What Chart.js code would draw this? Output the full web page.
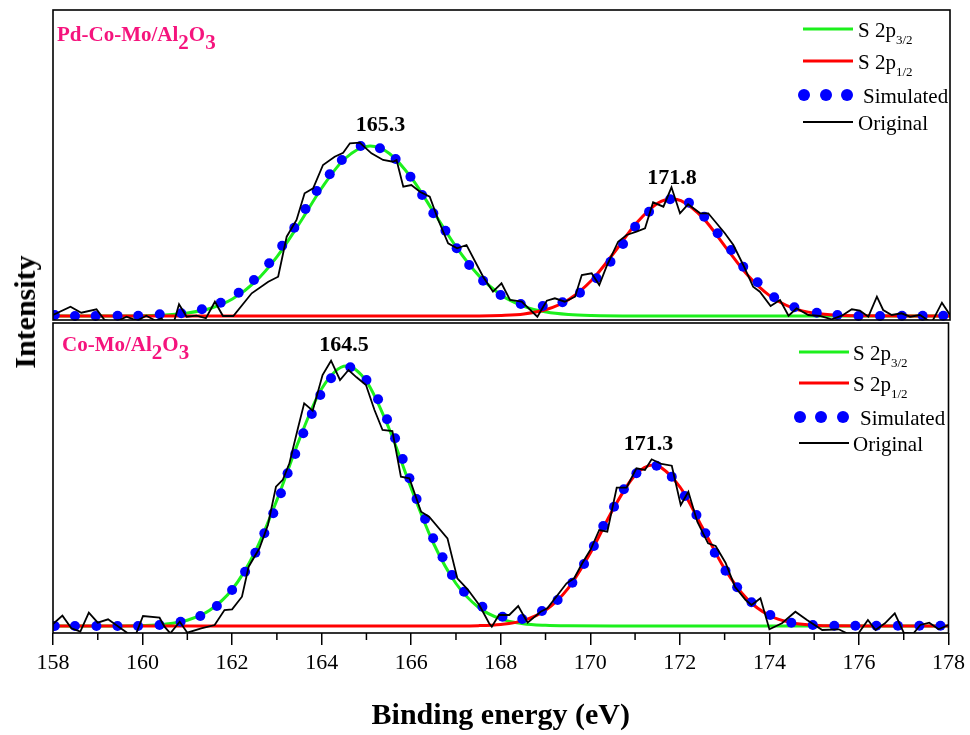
<!DOCTYPE html>
<html>
<head>
<meta charset="utf-8">
<title>S 2p XPS</title>
<script src="https://cdn.jsdelivr.net/npm/chart.js@4.4.1/dist/chart.umd.min.js"></script>
<style>
  html, body { margin: 0; padding: 0; background: #fff; }
  #wrap { position: relative; width: 970px; height: 735px; overflow: hidden; }
  #wrap canvas { position: absolute; left: 0; }
  #topPanel { top: 0; }
  #bottomPanel { top: 322px; }
  #yTitle {
    position: absolute; left: 25px; top: 312px;
    transform: translate(-50%, -50%) rotate(-90deg);
    font: bold 30px "Liberation Serif", "Times New Roman", serif;
    white-space: nowrap; color: #000;
  }
</style>
</head>
<body>
<div id="wrap">
  <canvas id="topPanel" width="970" height="322"></canvas>
  <canvas id="bottomPanel" width="970" height="413"></canvas>
  <div id="yTitle">Intensity</div>
</div>
<script>
// ---- Pd-Co-Mo/Al2O3 (upper panel) ----
const pdSimE = [158.04,158.49,158.95,159.44,159.90,160.38,160.86,161.32,161.74,162.14,162.48,162.82,163.11,163.38,163.63,163.88,164.17,164.44,164.86,165.29,165.64,165.97,166.23,166.48,166.75,167.00,167.28,167.59,167.98,168.43,168.92,169.36,169.75,170.12,170.43,170.71,170.98,171.29,171.76,172.18,172.52,172.82,173.12,173.39,173.71,174.08,174.53,175.03,175.49,175.96,176.44,176.93,177.39,177.85];
const pdSimI = [1,0,0,0.3,0.3,1.7,2.7,6.7,13.3,23.3,36,52.7,70.3,88.3,107,125,141.7,156,170,167.7,157,139.3,121,102.7,85.3,67.7,51,35.3,21,12,10,13.7,23.3,37.7,54.3,72,89.3,104.3,116.7,113.3,99.3,82.7,66,49.3,33.7,18.7,8.7,3.3,1,0,0,0.3,0.3,0.3];

const pdOrigE = [158.00,158.39,158.63,158.97,159.15,159.38,159.64,159.87,160.08,160.29,160.42,160.49,160.69,160.81,160.98,161.20,161.41,161.61,161.79,162.02,162.43,162.80,163.02,163.21,163.43,163.61,163.80,164.02,164.28,164.47,164.62,164.84,165.10,165.36,165.58,165.66,165.81,165.99,166.18,166.40,166.59,166.81,167.01,167.22,167.59,167.81,168.00,168.19,168.45,168.80,169.01,169.19,169.41,169.64,169.79,170.01,170.18,170.34,170.60,170.79,171.01,171.20,171.38,171.61,171.79,171.98,172.16,172.43,172.61,172.98,173.17,173.39,173.61,173.76,174.00,174.21,174.40,174.58,174.84,175.10,175.36,175.59,175.81,175.99,176.18,176.37,176.51,176.70,176.92,177.11,177.33,177.59,177.82,178.00];
const pdOrigI = [1,9.3,3.3,6.7,-4,-6.3,-0.7,-4.7,0.3,-4.7,-2.3,-7,-7,11.7,-0.7,0.3,-2.3,14.3,0,0,22.7,34.3,39.3,79.3,96,122.7,127.7,151,159.3,163.3,172.7,173.3,162.7,156,154.3,156,129.3,131,124.3,119.3,96,72.7,67.7,71,39.3,24.3,32.7,16,14.3,-0.7,15.3,17.7,14.3,19.3,41,42.7,31,49.3,74.3,81,84.3,87.7,113.7,109.3,128.7,102.7,111.7,102.7,102.7,82.7,71,51,29.3,24.3,10,16,0.3,7.7,1,0,-3.3,0.3,6.7,5.3,-0.7,19.3,6,1,2.7,-0.7,1,-6.7,13.3,1];

const pd32E = [158,159,160,160.5,161,161.5,162,162.5,163,163.5,164,164.5,165.07,165.5,166,166.5,167,167.5,168,168.5,169,169.5,170,171,178];
const pd32I = [0,0,0.3,1.0,3.0,7.5,17,33.8,59.6,93,128.5,157,170,162.5,137.6,103,68.4,40.1,20.8,9.6,3.9,1.4,0.45,0,0];
const pd12E = [158,166,167.5,168,168.5,169,169.5,170,170.5,171,171.5,171.8,172,172.5,173,173.5,174,174.5,175,175.5,176,177,178];
const pd12I = [0,0,0.1,0.6,2.1,6.5,16.6,35.3,62.7,92.4,113.2,117,115.3,97.6,68.7,40.2,19.6,7.9,2.7,0.7,0.2,0,0];
const pdPeaks = [165.3, 171.8];

// ---- Co-Mo/Al2O3 (lower panel) ----
const coSimE = [158.04,158.49,158.97,159.44,159.90,160.38,160.85,161.29,161.66,162.00,162.29,162.52,162.72,162.92,163.09,163.24,163.41,163.59,163.78,163.97,164.21,164.64,165.00,165.26,165.46,165.64,165.81,165.96,166.12,166.31,166.49,166.70,166.91,167.18,167.59,168.04,168.48,168.92,169.27,169.60,169.86,170.08,170.29,170.53,170.75,171.03,171.48,171.82,172.11,172.37,172.57,172.78,173.02,173.28,173.60,174.02,174.49,174.97,175.45,175.92,176.39,176.87,177.35,177.82];
const coSimI = [0,0,0,0,0,1,4.3,10,20,36,54.3,73.3,92.7,112.7,132.7,152.7,172,192.7,212,231,247.7,258.7,246,226.7,206.7,187.7,167,147.7,127,107,87.7,68.7,51,34.3,19.3,9.3,7,15,26,43.3,62,80,100,119.3,136.7,152.7,160.3,149.3,130,111,92.7,73.3,55.3,38.7,23.7,11,3.3,1,0.3,0.3,0.3,0.3,0.3,0.3];

const coOrigE = [158.00,158.21,158.41,158.61,158.80,159.00,159.23,159.41,159.67,159.86,160.01,160.38,160.49,160.62,160.83,161.00,161.31,161.61,161.83,162.00,162.22,162.37,162.61,162.80,162.98,163.13,163.28,163.47,163.61,163.80,164.02,164.21,164.41,164.60,164.78,164.99,165.18,165.36,165.58,165.77,165.96,166.22,166.40,166.81,167.03,167.26,167.52,167.74,167.80,167.96,168.19,168.39,168.60,168.89,169.04,169.30,169.47,169.64,169.82,170.01,170.20,170.38,170.59,170.81,171.03,171.22,171.37,171.59,171.82,172.02,172.19,172.39,172.63,172.80,173.02,173.23,173.47,173.60,173.80,174.00,174.28,174.58,174.84,175.18,175.55,175.73,175.99,176.20,176.37,176.58,176.80,177.00,177.22,177.37,177.57,177.78,178.00];
const coOrigI = [2,10.3,-2.3,-5.7,13.3,3.3,6.7,1,-7.3,-7.3,10,8.3,-0.7,-7.3,4.3,-6.7,-2.3,1,16,16.7,29.3,59.3,77.7,101,139.3,146,162.7,197.7,222.7,215.3,251,265.3,246,256,248.7,241,216,196,195,149.3,147.7,114.3,109.3,87.7,47.7,36.7,21,2.7,-0.7,11,11,20,3.3,14.3,17.7,32.7,42.7,47.7,62.7,76.7,96,94.3,138.3,138.3,157.7,156,166.7,162,160.3,121,134.3,104.3,82.7,80,63.3,39.3,26,21,27.7,-3.3,2.7,14.3,6,-4,-3.3,-7.3,-7.3,6,-4,2.7,12.7,-6.7,-7.3,1,3.3,-3.3,1];

const co32E = [158,159,160,160.5,161,161.5,162,162.5,163,163.5,164,164.55,165,165.5,166,166.5,167,167.5,168,168.5,169,169.5,170.5,178];
const co32I = [0,0,0.5,1.8,5.8,15.7,36.5,73,125.9,186.4,237.3,260,244.6,198,137.8,82.5,42.5,18.8,7.1,2.3,0.65,0.15,0,0];
const co12E = [158,166.5,167.5,168,168.5,169,169.5,170,170.5,171,171.4,172,172.5,173,173.5,174,174.5,175,175.5,176.5,178];
const co12I = [0,0,0.35,1.5,5.4,15.7,37.4,72.9,116.1,150.9,161,139.2,98.7,57.2,27.1,10.5,3.3,0.86,0.18,0,0];
const coPeaks = [164.5, 171.3];

const xTicks = { min: 158, max: 178, step: 2 };

const serif = '"Liberation Serif", "Times New Roman", serif';
const GREEN = '#1cf01c';
const RED = '#ff0000';
const BLUE = '#0000ff';
const PINK = '#f5147d';

const pts = (xs, ys) => xs.map((v, i) => ({ x: v, y: ys[i] }));

const buildDatasets = (e32, i32, e12, i12, simE, simI, origE, origI) => [
  { label: 'Original', data: pts(origE, origI), showLine: true, borderColor: '#000', borderWidth: 1.8,
    pointRadius: 0, tension: 0, clip: 0, order: 0 },
  { label: 'Simulated', data: pts(simE, simI), showLine: false, pointRadius: 5, pointBorderWidth: 0,
    pointBackgroundColor: BLUE, backgroundColor: BLUE, clip: { left: 0, right: 5, top: 5, bottom: 1 }, order: 1 },
  { label: 'S 2p1/2', data: pts(e12, i12), showLine: true, borderColor: RED, borderWidth: 3,
    pointRadius: 0, cubicInterpolationMode: 'monotone', clip: 0, order: 2 },
  { label: 'S 2p3/2', data: pts(e32, i32), showLine: true, borderColor: GREEN, borderWidth: 3,
    pointRadius: 0, cubicInterpolationMode: 'monotone', clip: 0, order: 3 }
];

const legendItems = [
  { kind: 'line', color: GREEN, width: 3, text: [['S 2p', 0], ['3/2', 1]] },
  { kind: 'line', color: RED, width: 3, text: [['S 2p', 0], ['1/2', 1]] },
  { kind: 'dots', color: BLUE, text: [['Simulated', 0]] },
  { kind: 'line', color: '#000', width: 2, text: [['Original', 0]] }
];

// text with subscript runs, left aligned on a baseline
const drawRich = (ctx, parts, x, y, f) => {
  ctx.textAlign = 'left';
  ctx.textBaseline = 'alphabetic';
  parts.forEach(([txt, sub]) => {
    ctx.font = `${f.weight} ${sub ? f.subSize : f.size}px ${serif}`;
    ctx.fillText(txt, x, sub ? y + f.drop : y);
    x += ctx.measureText(txt).width;
  });
};

const panelDecor = {
  id: 'panelDecor',
  afterDraw(chart, args, o) {
    const { ctx, chartArea: a, scales: { x, y } } = chart;
    ctx.save();

    // frame around the plot area
    ctx.strokeStyle = '#000';
    ctx.lineWidth = 1.6;
    ctx.strokeRect(a.left, a.top, a.right - a.left, a.bottom - a.top);

    // minor ticks between the labelled ones
    if (o.minorTicks) {
      ctx.lineWidth = 1.5;
      for (let v = xTicks.min + 1; v < xTicks.max; v += xTicks.step) {
        const px = x.getPixelForValue(v);
        ctx.beginPath();
        ctx.moveTo(px, a.bottom);
        ctx.lineTo(px, a.bottom + 7);
        ctx.stroke();
      }
    }

    // sample name
    ctx.fillStyle = PINK;
    drawRich(ctx, o.sample, o.sampleX, o.sampleY, { weight: 'bold', size: 21, subSize: 21, drop: 8 });

    // peak positions
    ctx.fillStyle = '#000';
    ctx.font = `bold 22px ${serif}`;
    ctx.textAlign = 'center';
    ctx.textBaseline = 'alphabetic';
    o.peaks.forEach(p => {
      const top = y.getPixelForValue(Math.max(...p.curve));
      ctx.fillText(p.value.toFixed(1), x.getPixelForValue(p.value), top - 15);
    });

    // legend
    const L = o.legend;
    legendItems.forEach((it, i) => {
      const ry = L.rowY[i];
      let tx = L.textX;
      if (it.kind === 'line') {
        ctx.strokeStyle = it.color;
        ctx.lineWidth = it.width;
        ctx.beginPath();
        ctx.moveTo(L.lineX[0], ry);
        ctx.lineTo(L.lineX[1], ry);
        ctx.stroke();
      } else {
        ctx.fillStyle = it.color;
        L.dotX.forEach(dx => {
          ctx.beginPath();
          ctx.arc(dx, ry, 6, 0, Math.PI * 2);
          ctx.fill();
        });
        tx = L.dotTextX;
      }
      ctx.fillStyle = '#000';
      drawRich(ctx, it.text, tx, ry + 7.5, { weight: 'normal', size: 21, subSize: 13, drop: 7 });
    });

    ctx.restore();
  }
};

const baseOptions = () => ({
  responsive: false,
  animation: false,
  devicePixelRatio: 1,
  events: [],
  plugins: { legend: { display: false }, tooltip: { enabled: false } }
});

// upper panel: no axes of its own, shares the energy range
const topOpts = baseOptions();
topOpts.layout = { autoPadding: false, padding: { top: 10, bottom: 2, left: 53, right: 20 } };
topOpts.scales = {
  x: { type: 'linear', min: xTicks.min, max: xTicks.max, display: false },
  y: { type: 'linear', min: -4, max: 306, display: false }
};
topOpts.plugins.panelDecor = {
  sample: [['Pd-Co-Mo/Al', 0], ['2', 1], ['O', 0], ['3', 1]],
  sampleX: 57, sampleY: 41,
  peaks: [{ value: pdPeaks[0], curve: pd32I }, { value: pdPeaks[1], curve: pd12I }],
  legend: { lineX: [803, 853], textX: 858, dotX: [804, 826, 847], dotTextX: 863, rowY: [29, 61, 95, 122] }
};

new Chart(document.getElementById('topPanel'), {
  type: 'scatter',
  data: { datasets: buildDatasets(pd32E, pd32I, pd12E, pd12I, pdSimE, pdSimI, pdOrigE, pdOrigI) },
  options: topOpts,
  plugins: [panelDecor]
});

// lower panel carries the energy axis
const botOpts = baseOptions();
botOpts.layout = { autoPadding: false, padding: { top: 1, bottom: 0, left: 53, right: 20 } };
botOpts.scales = {
  x: {
    type: 'linear', min: xTicks.min, max: xTicks.max,
    afterFit: s => { s.height = 102; },
    border: { display: false },
    grid: { display: true, drawOnChartArea: false, drawTicks: true, tickLength: 12, color: '#000', lineWidth: 1.5 },
    ticks: { stepSize: xTicks.step, padding: 5, color: '#000', maxRotation: 0, autoSkip: false,
      font: { family: serif, size: 22 } },
    title: { display: true, text: 'Binding energy (eV)', color: '#000',
      font: { family: serif, size: 30, weight: 'bold' }, padding: { top: 0, bottom: 1 } }
  },
  y: { type: 'linear', min: -7, max: 303, display: false }
};
botOpts.plugins.panelDecor = {
  minorTicks: true,
  sample: [['Co-Mo/Al', 0], ['2', 1], ['O', 0], ['3', 1]],
  sampleX: 62, sampleY: 29,
  peaks: [{ value: coPeaks[0], curve: co32I }, { value: coPeaks[1], curve: co12I }],
  legend: { lineX: [799, 849], textX: 853, dotX: [800, 821, 843], dotTextX: 860, rowY: [30, 61, 95, 121] }
};

new Chart(document.getElementById('bottomPanel'), {
  type: 'scatter',
  data: { datasets: buildDatasets(co32E, co32I, co12E, co12I, coSimE, coSimI, coOrigE, coOrigI) },
  options: botOpts,
  plugins: [panelDecor]
});
</script>
</body>
</html>
